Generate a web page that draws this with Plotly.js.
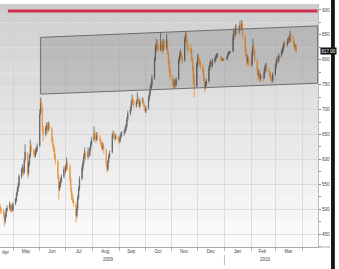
<!DOCTYPE html>
<html>
<head>
<meta charset="utf-8">
<script src="https://cdn.plot.ly/plotly-3.0.1.min.js"></script>
<style>html,body{margin:0;padding:0;background:#fff;}#chart{width:339px;height:269px;}</style>
</head>
<body>
<div id="chart"></div>
<script>
// ---- data (daily OHLC, 16 Apr 2009 - 25 Mar 2010) ----
const firstDay = '2009-04-16';
const holidays = ['2009-12-25', '2010-01-01'];

const openP = [506,500, 497,491,476,486,498, 503,509,499,506,499, 512,519,531,542,549, 566,579,583,575,600,
 612,573,591,607,627, 617,613,607,615,621, 628,692,714,704,661, 651,661,669,661,671, 662,641,627,621,606,
 596,564,541,549,557, 566,581,575,585,593, 586,559,537,525,519, 510,487,502,523,541, 562,583,593,607,613,
 605,617,609,621,631, 640,653,645,641,649, 643,635,631,623,627, 618,591,581,597,607, 615,647,653,647,643,
 645,639,637,645,651, 653,657,661,669,681, 693,701,713,721,717, 709,715,723,717,707, 717,719,711,703,697,
 704,723,733,743,751, 764,802,823,835,829, 821,833,827,821,837, 825,839,814,796,781, 764,757,749,757,751,
 762,799,809,813,805, 800,841,851,837,825, 823,819,801,783,757, 748,791,807,799,795, 785,775,761,745,751,
 758,783,791,795,789, 797,801,806,809, 806,801,799,801, 801,806,811,814,816, 818,846,859,853,867,
 859,863,871,863,873, 846,821,807,797,803, 793,791,813,827,817, 798,777,769,771,763, 765,765,777,785,789,
 779,773,767,761,759, 772,787,797,803,799, 809,815,819,827,833, 831,837,843,839,851, 845,835,825,829];

const highP = [510,505, 500,494,490,502,508, 515,512,510,509,514, 523,534,545,553,570, 584,590,586,602,630,
 614,596,610,640,632, 622,618,622,626,632, 700,725,720,706,668, 668,675,673,676,674, 665,646,632,626,612,
 600,568,555,562,570, 586,585,590,604,598, 590,563,541,531,522, 515,505,528,546,566, 588,598,612,624,617,
 624,621,626,636,645, 666,657,650,655,653, 648,640,635,634,631, 622,595,600,611,618, 652,658,656,650,652,
 648,643,649,655,657, 661,666,672,685,698, 706,718,730,725,720, 719,735,727,721,722, 725,722,715,707,708,
 728,738,748,756,770, 806,830,842,840,834, 856,838,831,842,840, 852,842,818,800,785, 770,761,762,760,765,
 804,815,821,817,810, 846,858,854,841,830, 832,822,805,787,772, 796,812,810,803,798, 790,779,765,756,762,
 788,796,800,798,802, 806,810,813,814, 808,802,804,803, 808,814,817,818,818, 852,864,862,872,870,
 868,878,874,880,876, 850,826,812,810,806, 798,818,842,832,821, 802,782,780,775,772, 770,782,790,794,792,
 783,777,771,765,775, 792,801,808,806,813, 820,824,832,838,836, 842,847,846,858,854, 848,839,832,831];

const lowP = [492,490, 484,465,472,482,494, 499,494,495,493,496, 508,515,527,535,545, 561,572,566,571,596,
 562,568,586,603,612, 606,603,604,611,616, 625,688,696,654,636, 646,657,652,656,658, 634,624,615,600,590,
 560,520,536,544,552, 562,570,572,580,578, 555,533,518,512,505, 473,482,498,519,537, 558,577,589,601,598,
 601,605,606,617,627, 636,640,632,637,638, 630,625,618,619,612, 585,573,577,593,603, 612,642,643,636,639,
 634,630,633,641,646, 648,652,656,664,677, 688,697,708,710,702, 704,711,711,704,703, 712,707,699,694,693,
 700,718,728,738,746, 760,797,818,822,814, 817,819,812,817,818, 820,810,790,773,758, 748,741,744,742,746,
 758,794,804,800,790, 796,836,832,818,814, 812,796,778,750,725, 744,786,793,788,781, 771,757,735,740,747,
 754,778,786,782,785, 793,797,802,805, 798,796,798,798, 799,804,809,812,812, 815,841,844,848,854,
 852,858,858,859,842, 816,802,788,792,787, 784,787,809,812,795, 772,758,764,755,758, 756,761,773,781,775,
 768,762,756,752,755, 768,783,793,792,795, 805,811,815,823,824, 827,833,832,835,840, 829,820,821,813];

const closeP = [500,496, 490,478,485,497,502, 508,500,505,498,510, 520,530,540,548,565, 578,582,574,598,615,
 572,592,606,626,618, 612,608,616,620,624, 690,712,705,662,650, 662,668,660,670,664, 640,628,620,605,598,
 565,540,548,556,565, 580,576,584,592,588, 560,538,524,518,512, 488,500,522,540,560, 582,592,606,612,604,
 616,610,620,630,638, 652,646,640,648,644, 636,630,624,628,620, 592,580,596,606,612, 646,652,648,642,646,
 640,636,644,650,652, 656,660,668,680,692, 700,712,720,716,710, 714,722,716,708,716, 718,712,704,698,702,
 722,732,742,750,762, 800,822,834,828,820, 832,826,820,836,824, 838,815,795,780,766, 758,748,756,750,758,
 798,808,812,806,798, 840,850,838,826,822, 818,800,784,758,745, 790,806,798,794,786, 776,762,744,750,756,
 782,790,794,788,796, 800,805,808,810, 800,798,802,800, 805,812,815,816,815, 845,858,852,866,860,
 862,870,864,872,848, 822,808,796,802,794, 790,812,826,818,800, 778,768,772,762,766, 764,776,784,788,780,
 774,768,762,758,770, 786,796,802,798,808, 814,818,826,832,830, 836,842,838,850,846, 834,826,828,817];

// trend channel and resistance line
const channelX = ['2009-06-02', '2010-04-19'];
const channelUpper = [845, 868];
const channelLower = [731, 753];
const resistanceX = ['2009-04-25', '2010-04-19'];
const resistanceY = [898, 898];

// axis labels
const monthTickVals = ['2009-05-16','2009-06-15','2009-07-16','2009-08-16','2009-09-15',
 '2009-10-16','2009-11-15','2009-12-16','2010-01-16','2010-02-14','2010-03-16'];
const monthTickText = ['May','Jun','Jul','Aug','Sep','Oct','Nov','Dec','Jan','Feb','Mar'];
const firstMonthLabel = 'Apr';
const yearLabels = ['2009', '2010'];
const yearLabelX = ['2009-08-20', '2010-02-18'];

// ---- trading dates ----
const dates = [];
{
  const d = new Date(firstDay + 'T00:00:00Z');
  while (dates.length < closeP.length) {
    const s = d.toISOString().slice(0, 10);
    const wd = d.getUTCDay();
    if (wd !== 0 && wd !== 6 && holidays.indexOf(s) < 0) dates.push(s);
    d.setUTCDate(d.getUTCDate() + 1);
  }
}

const xRange = ['2009-04-15 22:00', '2010-04-19 10:00'];
const yRange = [424, 912];

// background bands
const shapes = [];
for (let v = 400; v < 925; v += 25) {
  const t = Math.max(0, Math.min(1, (v - 425) / 475));
  const L = Math.round(251 - t * 45);
  shapes.push({type:'rect', layer:'below', xref:'paper', x0:0, x1:1, yref:'y', y0:v, y1:v+25,
    fillcolor:'rgb('+L+','+L+','+L+')', line:{width:0}});
}
// dark right frame bar
shapes.push({type:'rect', xref:'paper', x0:1.041, x1:1.053, yref:'paper', y0:-0.1, y1:1.03,
  fillcolor:'#151515', line:{width:0}});
// bottom line extension below right axis
shapes.push({type:'line', xref:'paper', x0:1, x1:1.038, yref:'paper', y0:0, y1:0, line:{color:'#aaa', width:1}});
// year separator
shapes.push({type:'line', xref:'x', x0:'2010-01-01', x1:'2010-01-01', yref:'paper', y0:-0.033, y1:-0.075,
  line:{color:'#bbb', width:1}});

const traces = [
  {type:'scatter', mode:'lines', x:[channelX[0], channelX[1], channelX[1], channelX[0], channelX[0]],
   y:[channelUpper[0], channelUpper[1], channelLower[1], channelLower[0], channelUpper[0]],
   fill:'toself', fillcolor:'rgba(0,0,0,0.13)', line:{color:'#6e6e6e', width:1}, hoverinfo:'skip'},
  {type:'scatter', mode:'lines', x:resistanceX, y:resistanceY, line:{color:'#d42d50', width:3}, hoverinfo:'skip'},
  {type:'candlestick', x:dates, open:openP, high:highP, low:lowP, close:closeP, whiskerwidth:0,
   increasing:{line:{color:'#5e6268', width:0.8}, fillcolor:'#5e6268'},
   decreasing:{line:{color:'#ee9238', width:0.8}, fillcolor:'#ee9238'}}
];

const lastClose = closeP[closeP.length - 1];
const annotations = [
  {xref:'paper', x:1.006, xanchor:'left', yref:'y', y:lastClose, yanchor:'middle', text:lastClose.toFixed(2),
   showarrow:false, bgcolor:'#111', borderpad:0.5, font:{size:4.5, color:'#fff', family:'Liberation Sans, Arial'}},
  {xref:'paper', x:0, xanchor:'left', yref:'paper', y:-0.021, yanchor:'middle', text:firstMonthLabel,
   showarrow:false, font:{size:4.5, color:'#444', family:'Liberation Sans, Arial'}}
];
for (let i = 0; i < yearLabels.length; i++) {
  annotations.push({xref:'x', x:yearLabelX[i], yref:'paper', y:-0.05, yanchor:'middle', text:yearLabels[i],
    showarrow:false, font:{size:4.5, color:'#444', family:'Liberation Sans, Arial'}});
}

const layout = {
  width:339, height:269,
  margin:{l:0, r:21, t:4, b:22, pad:0},
  paper_bgcolor:'#fff', plot_bgcolor:'#fff',
  showlegend:false,
  font:{family:'Liberation Sans, Arial', size:5, color:'#444'},
  xaxis:{type:'date', range:xRange, rangeslider:{visible:false},
    tickmode:'array', tickvals:monthTickVals, ticktext:monthTickText, ticks:'', showgrid:false,
    tickfont:{size:4.5, color:'#444'},
    minor:{dtick:'M1', tick0:'2009-05-01', showgrid:true, gridcolor:'#cdcdcd', gridwidth:0.6,
      ticks:'outside', ticklen:3, tickcolor:'#bbb'},
    showline:true, linecolor:'#aaa', linewidth:1, zeroline:false, fixedrange:true},
  yaxis:{side:'right', range:yRange, tick0:450, dtick:50, ticks:'outside', ticklen:2, tickcolor:'#888',
    tickfont:{size:4.5, color:'#444'},
    showgrid:true, gridcolor:'#cdcdcd', gridwidth:0.6,
    minor:{dtick:25, tick0:425, ticks:'outside', ticklen:2, tickcolor:'#999', showgrid:false},
    showline:true, linecolor:'#bbb', linewidth:1, zeroline:false, fixedrange:true},
  shapes:shapes,
  annotations:annotations
};

Plotly.newPlot('chart', traces, layout, {displayModeBar:false, staticPlot:true});
</script>
</body>
</html>
